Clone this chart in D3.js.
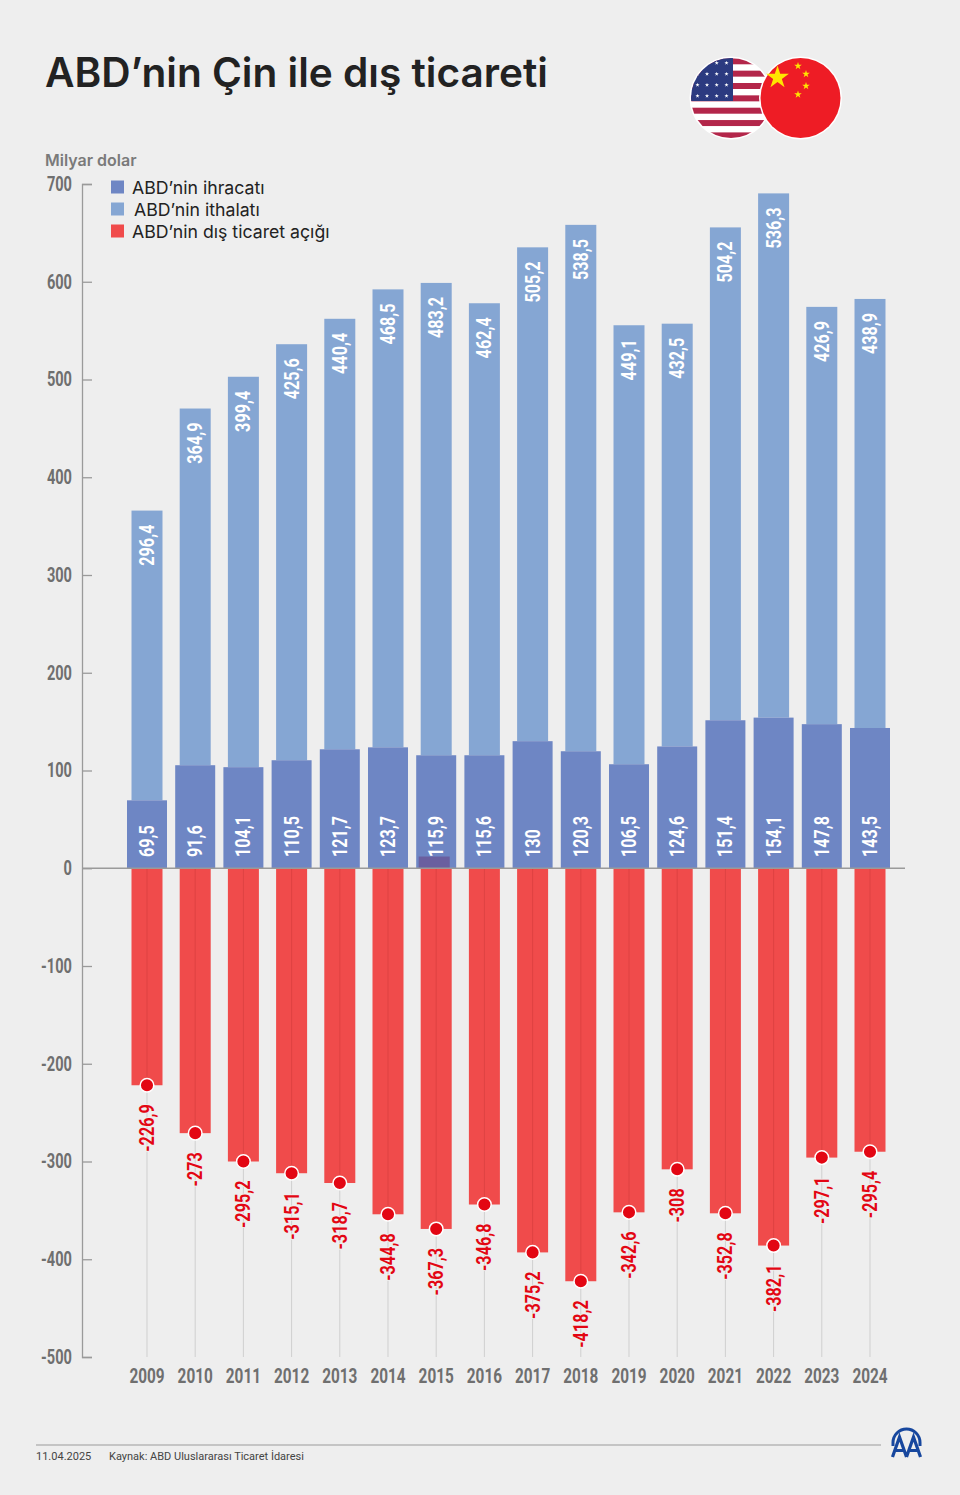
<!DOCTYPE html>
<html lang="tr">
<head>
<meta charset="utf-8">
<title>ABD'nin Çin ile dış ticareti</title>
<script src="https://cdn.jsdelivr.net/npm/d3@7"></script>
<style>
  html, body { margin: 0; padding: 0; background: #eeeeee; }
  svg { display: block; }
  .cond { font-family: Roboto, sans-serif; font-weight: 700; }
</style>
</head>
<body>
<svg id="chart" width="960" height="1495"></svg>
<script>
const years = [2009, 2010, 2011, 2012, 2013, 2014, 2015, 2016, 2017, 2018, 2019, 2020, 2021, 2022, 2023, 2024];

// printed values
const exportLabels = [69.5, 91.6, 104.1, 110.5, 121.7, 123.7, 115.9, 115.6, 130, 120.3, 106.5, 124.6, 151.4, 154.1, 147.8, 143.5];
const imports = [296.4, 364.9, 399.4, 425.6, 440.4, 468.5, 483.2, 462.4, 505.2, 538.5, 449.1, 432.5, 504.2, 536.3, 426.9, 438.9];
const deficitLabels = [-226.9, -273, -295.2, -315.1, -318.7, -344.8, -367.3, -346.8, -375.2, -418.2, -342.6, -308, -352.8, -382.1, -297.1, -295.4];

// bar heights as drawn in the picture, they do not always agree with the printed values
const exportBars = [69.5, 105.4, 103.4, 110.5, 121.7, 123.7, 115.6, 115.6, 130, 119.7, 106.4, 124.6, 151.4, 154.1, 147.4, 143.5];
const deficitBars = [-222, -271, -300, -312, -322, -354, -369, -344, -393, -422.5, -352, -308, -353, -386, -296, -290];

const yTicks = [700, 600, 500, 400, 300, 200, 100, 0, -100, -200, -300, -400, -500];
const legendItems = ["ABD’nin ihracatı", "ABD’nin ithalatı", "ABD’nin dış ticaret açığı"];

const bg = "#eeeeee";
const exportColor = "#6e86c4";
const importColor = "#85a6d3";
const deficitColor = "#f04b4b";
const dotColor = "#e30613";
const axisGray = "#9a9a9a";
const textGray = "#6f6f6f";
// no condensed face installed, so Roboto is narrowed by hand
const squeeze = 0.73;
const labelSqueeze = 0.81;

const svg = d3.select("#chart");

const x = d3.scalePoint().domain(years).range([147, 870]);
const y = d3.scaleLinear().domain([700, -500]).range([184, 1357]);
const comma = v => String(v).replace(".", ",");

// Title and unit
svg.append("text")
  .attr("x", 45).attr("y", 87)
  .attr("font-family", "Inter").attr("font-weight", 600).attr("font-size", 40.6)
  .attr("fill", "#222222")
  .text("ABD’nin Çin ile dış ticareti");

svg.append("text")
  .attr("x", 45).attr("y", 166)
  .attr("font-family", "Inter").attr("font-weight", 600).attr("font-size", 16)
  .attr("fill", "#7a7a7a")
  .text("Milyar dolar");

// Axis
const yAxis = svg.append("g")
  .attr("transform", "translate(82,0)")
  .call(d3.axisLeft(y).tickValues(yTicks).tickSize(-10).tickPadding(10).tickFormat(d => String(d)));
yAxis.selectAll("path, line").attr("stroke", axisGray).attr("stroke-width", 1.3);
yAxis.selectAll("text")
  .attr("class", "cond")
  .attr("x", 0)
  .attr("transform", `translate(-10,0) scale(${squeeze},1)`)
  .attr("font-size", 20)
  .attr("fill", textGray);

// Light bars stacked on the export bars
svg.append("g").selectAll("rect")
  .data(years)
  .join("rect")
  .attr("x", d => x(d) - 15.5)
  .attr("width", 31)
  .attr("y", (d, i) => y(exportBars[i] + imports[i]))
  .attr("height", (d, i) => y(exportBars[i]) - y(exportBars[i] + imports[i]))
  .attr("fill", importColor);

svg.append("g").selectAll("rect")
  .data(years)
  .join("rect")
  .attr("x", d => x(d) - 20)
  .attr("width", 40)
  .attr("y", (d, i) => y(exportBars[i]))
  .attr("height", (d, i) => y(0) - y(exportBars[i]))
  .attr("fill", exportColor);

// Thin guide lines down to the axis end
svg.append("g").selectAll("line")
  .data(years)
  .join("line")
  .attr("x1", d => x(d)).attr("x2", d => x(d))
  .attr("y1", (d, i) => y(deficitBars[i]))
  .attr("y2", y(-500))
  .attr("stroke", "#cfcfcf").attr("stroke-width", 1);

// Deficit bars with a darker centre line
svg.append("g").selectAll("rect")
  .data(years)
  .join("rect")
  .attr("x", d => x(d) - 15.5)
  .attr("width", 31)
  .attr("y", y(0))
  .attr("height", (d, i) => y(deficitBars[i]) - y(0))
  .attr("fill", deficitColor);

svg.append("g").selectAll("line")
  .data(years)
  .join("line")
  .attr("x1", d => x(d)).attr("x2", d => x(d))
  .attr("y1", y(0))
  .attr("y2", (d, i) => y(deficitBars[i]))
  .attr("stroke", "#de4242").attr("stroke-width", 1);

// The 2015 deficit bar pokes above zero in the original
svg.append("rect")
  .attr("x", x(2015) - 17.5)
  .attr("width", 31)
  .attr("y", y(12))
  .attr("height", y(0) - y(12))
  .attr("fill", "#6a5f9f");

// Zero line
svg.append("line")
  .attr("x1", 82).attr("x2", 905)
  .attr("y1", y(0)).attr("y2", y(0))
  .attr("stroke", axisGray).attr("stroke-width", 1.3);

// Rotated value labels
svg.append("g").selectAll("text")
  .data(years)
  .join("text")
  .attr("class", "cond")
  .attr("transform", d => `translate(${x(d)},857) rotate(-90) scale(${labelSqueeze},1)`)
  .attr("dy", "0.35em")
  .attr("font-size", 20)
  .attr("fill", "#ffffff")
  .text((d, i) => comma(exportLabels[i]));

svg.append("g").selectAll("text")
  .data(years)
  .join("text")
  .attr("class", "cond")
  .attr("transform", (d, i) => `translate(${x(d)},${y(exportBars[i] + imports[i]) + 14}) rotate(-90) scale(${labelSqueeze},1)`)
  .attr("text-anchor", "end")
  .attr("dy", "0.35em")
  .attr("font-size", 20)
  .attr("fill", "#ffffff")
  .text((d, i) => comma(imports[i]));

svg.append("g").selectAll("text")
  .data(years)
  .join("text")
  .attr("class", "cond")
  .attr("transform", (d, i) => `translate(${x(d)},${y(deficitBars[i]) + 19}) rotate(-90) scale(${labelSqueeze},1)`)
  .attr("text-anchor", "end")
  .attr("dy", "0.35em")
  .attr("font-size", 20)
  .attr("fill", dotColor)
  .attr("stroke", bg).attr("stroke-width", 2).attr("paint-order", "stroke")
  .text((d, i) => comma(deficitLabels[i]));

// Dots at the end of the deficit bars
svg.append("g").selectAll("circle")
  .data(years)
  .join("circle")
  .attr("cx", d => x(d))
  .attr("cy", (d, i) => y(deficitBars[i]))
  .attr("r", 6.8)
  .attr("fill", dotColor)
  .attr("stroke", "#ffffff").attr("stroke-width", 1.5);

// Year labels
svg.append("g").selectAll("text")
  .data(years)
  .join("text")
  .attr("class", "cond")
  .attr("transform", d => `translate(${x(d)},1383) scale(${squeeze},1)`)
  .attr("text-anchor", "middle")
  .attr("font-size", 21)
  .attr("fill", textGray)
  .text(d => d);

// Legend
const legendColors = [exportColor, importColor, deficitColor];
const legendY = d3.scalePoint().domain(legendItems).range([187, 231]);
const legendTextX = [132, 134, 132];

const legend = svg.append("g").selectAll("g")
  .data(legendItems)
  .join("g")
  .attr("transform", d => `translate(0,${legendY(d)})`);
legend.append("rect")
  .attr("x", 111).attr("y", -6.5)
  .attr("width", 13).attr("height", 13)
  .attr("fill", (d, i) => legendColors[i]);
legend.append("text")
  .attr("x", (d, i) => legendTextX[i]).attr("y", 6.5)
  .attr("font-family", "Inter").attr("font-size", 17.7)
  .attr("fill", "#222222")
  .text(d => d);

// US flag
const defs = svg.append("defs");
defs.append("clipPath").attr("id", "usClip")
  .append("circle").attr("cx", 731).attr("cy", 98).attr("r", 40);

svg.append("circle").attr("cx", 731).attr("cy", 98).attr("r", 41.5).attr("fill", "#ffffff");
const us = svg.append("g").attr("clip-path", "url(#usClip)");
us.append("rect").attr("x", 690).attr("y", 57).attr("width", 82).attr("height", 82).attr("fill", "#ffffff");
us.selectAll(".stripe")
  .data(d3.range(7))
  .join("rect")
  .attr("x", 690).attr("width", 82)
  .attr("y", d => 58.3 + d * 12.35)
  .attr("height", 6)
  .attr("fill", "#b3264a");
us.append("rect").attr("x", 690).attr("y", 57).attr("width", 43).attr("height", 44).attr("fill", "#2b3a80");

const starPath = r => d3.symbol(d3.symbolStar, r * r / 0.8908)();
const usStars = d3.cross([63, 74, 85, 96], [697.5, 707, 716.7, 726.5]);
us.selectAll("path")
  .data(usStars)
  .join("path")
  .attr("d", starPath(2.2))
  .attr("transform", d => `translate(${d[1]},${d[0]})`)
  .attr("fill", "#ffffff");

// China flag
svg.append("circle").attr("cx", 800.5).attr("cy", 98).attr("r", 41.5).attr("fill", "#ffffff");
svg.append("circle").attr("cx", 800.5).attr("cy", 98).attr("r", 40).attr("fill", "#ee1c25");
const cnStars = [[777.5, 77.5, 12], [798, 66, 4], [806, 74, 4], [806, 86, 4], [798, 94.5, 4]];
svg.append("g").selectAll("path")
  .data(cnStars)
  .join("path")
  .attr("d", d => starPath(d[2]))
  .attr("transform", d => `translate(${d[0]},${d[1]})`)
  .attr("fill", "#ffe500");

// Footer
svg.append("line")
  .attr("x1", 36).attr("x2", 881)
  .attr("y1", 1445).attr("y2", 1445)
  .attr("stroke", axisGray).attr("stroke-width", 1);

svg.append("text")
  .attr("x", 36).attr("y", 1460)
  .attr("font-family", "Roboto").attr("font-size", 11)
  .attr("fill", "#444444")
  .text("11.04.2025");

svg.append("text")
  .attr("x", 109).attr("y", 1460)
  .attr("font-family", "Roboto").attr("font-size", 11)
  .attr("fill", "#444444")
  .text("Kaynak: ABD Uluslararası Ticaret İdaresi");

// AA logo
const logo = svg.append("g")
  .attr("transform", "translate(906.5,1443)")
  .attr("fill", "none").attr("stroke", "#17479e");
logo.append("path")
  .attr("d", "M-13.5,3 V-0.5 A13.5,13.5 0 0 1 13.5,-0.5 V3")
  .attr("stroke-width", 3);
logo.append("path")
  .attr("d", "M-14,14 L-7,-6 L0,14 M-10.5,7.5 H-3.5 M0,14 L7,-6 L14,14 M3.5,7.5 H10.5")
  .attr("stroke-width", 3.2);
</script>
</body>
</html>
